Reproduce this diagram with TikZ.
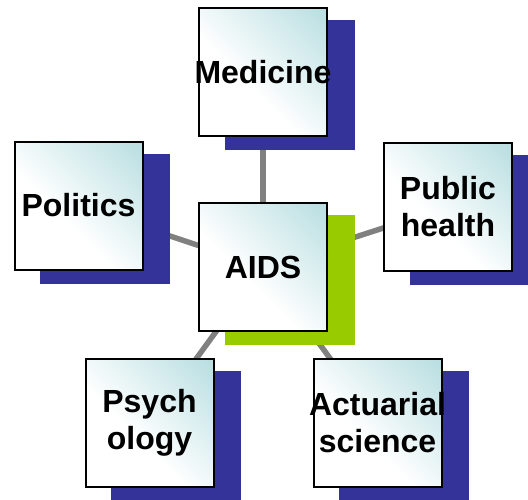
\documentclass[tikz,border=0pt]{standalone}
\usepackage{fontspec}
\setmainfont{Liberation Sans}
\usetikzlibrary{shadows,backgrounds}
\definecolor{shadowblue}{RGB}{51,51,153}
\definecolor{shadowgreen}{RGB}{153,204,0}
\definecolor{boxteal}{RGB}{184,222,225}
\definecolor{linkgray}{RGB}{128,128,128}
\pgfdeclareverticalshading{boxshade}{100bp}{color(0bp)=(white); color(42bp)=(white); color(85bp)=(boxteal); color(100bp)=(boxteal)}
\tikzset{
  topic/.style={draw=black, line width=2pt, minimum size=128pt, inner ysep=0pt, inner xsep=-12pt,
    shade, shading=boxshade, shading angle=-45,
    align=center, font=\fontsize{32}{37}\selectfont\bfseries,
    general shadow={fill=shadowblue, draw=shadowblue, line width=2pt,
      shadow xshift=26.5pt, shadow yshift=-13pt}},
  core/.style={topic, general shadow={fill=shadowgreen, draw=shadowgreen, line width=2pt,
      shadow xshift=26.5pt, shadow yshift=-12.5pt}},
  link/.style={draw=linkgray, line width=5.5pt}
}
\begin{document}
\begin{tikzpicture}[x=1pt,y=-1pt]
\useasboundingbox (0,0) rectangle (528,499);
\node[topic] (med) at (263,72) {Medicine};
\node[topic] (pol) at (78.5,205.5) {Politics};
\node[topic] (pub) at (448,207) {Public\\health};
\node[topic] (psy) at (149.5,423) {Psych\\ology};
\node[topic] (act) at (377.5,423) {Actuarial\\science};
\node[core] (aids) at (263,267) {AIDS};
\begin{scope}[on background layer]
\draw[link] (aids.center) -- (med.center);
\draw[link] (aids.center) -- (pol.center);
\draw[link] (aids.center) -- (pub.center);
\draw[link] (aids.center) -- (psy.center);
\draw[link] (aids.center) -- (act.center);
\end{scope}
\end{tikzpicture}
\end{document}
